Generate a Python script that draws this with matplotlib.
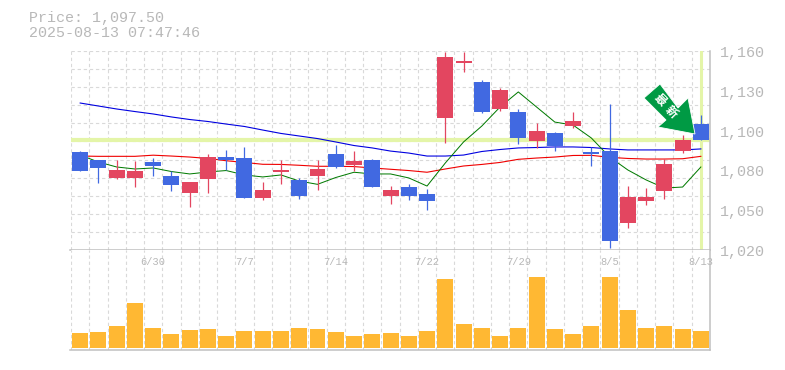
import numpy as np
import matplotlib
matplotlib.use('Agg')
import matplotlib.pyplot as plt
from matplotlib.patches import Polygon
from matplotlib.transforms import Affine2D

W, H = 785, 370

# daily prices
opens = [1089, 1083.5, 1070.5, 1070.5, 1082, 1072, 1060, 1070, 1085.5, 1084.5, 1056.5, 1075,
         1069.5, 1072, 1087.5, 1080, 1083.5, 1058, 1064.5, 1059.5, 1113, 1151.5, 1138, 1119,
         1117, 1096.5, 1102.5, 1107, 1089, 1089.5, 1039, 1054.5, 1061.5, 1089.5, 1108.5]
highs = [1089.5, 1083.5, 1083.5, 1082.5, 1084.5, 1075.5, 1068, 1087.5, 1090.5, 1092.5, 1068, 1083.5,
         1070.5, 1083.5, 1094, 1089.5, 1084, 1065, 1066.5, 1063, 1159.5, 1159.5, 1139.5, 1134,
         1119, 1109.5, 1103, 1117, 1092.5, 1122.5, 1065, 1063.5, 1084, 1101, 1115]
lows = [1075.5, 1067, 1070, 1064.5, 1072, 1061.5, 1050.5, 1060, 1076.5, 1056.5, 1055, 1066.5,
        1056, 1062, 1077.5, 1075.5, 1064.5, 1052.5, 1055, 1048, 1095.5, 1145, 1116.5, 1118,
        1094.5, 1092, 1089.5, 1106, 1079, 1021.5, 1035.5, 1051.5, 1056, 1088, 1097.5]
closes = [1075.5, 1077.5, 1076.5, 1075.5, 1079, 1065.5, 1068, 1085.5, 1083.5, 1056.5, 1062, 1076.5,
          1058, 1077, 1078.5, 1082.5, 1064.5, 1062, 1058, 1054.5, 1156, 1153, 1117, 1132.5,
          1099, 1103.5, 1093, 1111, 1087.5, 1026.5, 1057.5, 1057.5, 1080.5, 1097.5, 1097.5]

# moving averages
ma_long = [1123.4, 1121.3, 1119.2, 1117.4, 1115.7, 1113.6, 1111.8, 1110.4, 1108.6, 1106.9, 1104.4, 1102,
           1100.2, 1098.4, 1096, 1093.5, 1091.8, 1089.6, 1088.2, 1086.1, 1086.1, 1086.8, 1089.3, 1090.7,
           1091.8, 1092.1, 1092.5, 1092.5, 1092.1, 1091.1, 1090.4, 1090.4, 1090.4, 1090.4, 1091.1]
ma_mid = [1086.1, 1085.9, 1085.9, 1085.9, 1086.7, 1086.1, 1085.4, 1084.4, 1082.8, 1081.6, 1080.3, 1080.2,
          1079.6, 1078.9, 1078.9, 1078.7, 1077.7, 1076.8, 1075.9, 1074.7, 1077, 1079.1, 1080.2, 1081.6,
          1083.8, 1084.7, 1085.4, 1086.5, 1086.6, 1085.2, 1084.4, 1084, 1084, 1084.2, 1085.9]
ma_short = [1086.8, 1081.9, 1078.4, 1077, 1077.7, 1075.2, 1073.5, 1074.9, 1075.9, 1072.8, 1071.4, 1072.8,
            1068.5, 1066.2, 1071, 1074.7, 1073.5, 1073.5, 1070.7, 1065, 1081.2, 1096, 1107.2, 1120.6,
            1131.2, 1120.6, 1110, 1107.9, 1098.8, 1085.4, 1076.3, 1069.3, 1063.6, 1064.3, 1078.4]

volume = [15, 16, 22, 45, 20, 14, 18, 19, 12, 17, 17, 17, 20, 19, 16, 12, 14, 15, 12, 17, 69, 24, 20, 12,
          20, 71, 19, 14, 22, 71, 38, 20, 22, 19, 17]

date_idx = [4, 9, 14, 19, 24, 29, 34]
date_labels = ['6/30', '7/7', '7/14', '7/22', '7/29', '8/5', '8/13']
price_ticks = [1160, 1132, 1104, 1076, 1048, 1020]
price_labels = ['1,160', '1,130', '1,100', '1,080', '1,050', '1,020']
last_price = 1097.5

BLUE = '#4169e1'
RED = '#e34660'
GRID = '#d9d9d9'
AXIS = '#c0c0c0'
TXT = '#b8b8b8'
MONO = 'Liberation Mono'
CJK = ['Noto Sans CJK JP', 'DejaVu Sans']

fig = plt.figure(figsize=(W / 100, H / 100), dpi=100)


def panel(x0, y0, x1, y1):
    return fig.add_axes([x0 / W, 1 - y1 / H, (x1 - x0) / W, (y1 - y0) / H])


ax = panel(70.5, 51, 710, 250)
av = panel(70.5, 250, 710, 350)

for a in (ax, av):
    a.set_xlim(-0.53, 34.5)
    a.set_xticks(np.arange(-0.5, 34.6, 1))
    a.grid(True, axis='x', color=GRID, lw=0.8, ls=(0, (3, 2.5)))
    a.tick_params(length=0, labelbottom=False, labelleft=False)
    a.set_axisbelow(True)
    for s in a.spines.values():
        s.set_visible(False)
    a.spines['right'].set_visible(True)
    a.spines['right'].set_color(AXIS)
    a.spines['right'].set_linewidth(1.1)
    a.spines['bottom'].set_visible(True)
    a.spines['bottom'].set_color(AXIS)
    a.spines['bottom'].set_linewidth(1.1)

ax.set_ylim(1020, 1160)
ax.set_yticks(np.linspace(1020, 1160, 12))
ax.grid(True, axis='y', color=GRID, lw=0.8, ls=(0, (3, 2.5)))

x = np.arange(len(opens))
ax.axhline(last_price, color='#e4f5a8', lw=3, zorder=1)
ax.axvline(34, color='#e4f5a8', lw=2.2, zorder=1, ymax=0.995)

ax.plot(x, ma_long, color='#0000e0', lw=0.8, zorder=2)
ax.plot(x, ma_mid, color='#f00000', lw=0.8, zorder=2)
ax.plot(x, ma_short, color='#007a00', lw=0.72, zorder=2)

for i in x:
    col = RED if closes[i] >= opens[i] else BLUE
    ax.vlines(i, lows[i], highs[i], color=col, lw=0.9, zorder=3)
    ax.bar(i, abs(closes[i] - opens[i]), 0.876, bottom=min(opens[i], closes[i]), color=col, zorder=3)

# arrow marker, drawn in pixels
px = Affine2D().scale(1, -1).translate(0, H).scale(1 / W, 1 / H) + fig.transFigure
arrow = [(660, 84), (644, 98), (666, 120), (658, 127), (695, 134), (688, 98), (678, 108)]
fig.add_artist(Polygon(arrow, closed=True, facecolor='#009a44', edgecolor='white', lw=0.6, transform=px, zorder=5))
fig.text(660 / W, 1 - 100 / H, '最', family=CJK, color='white', fontsize=8.5, weight='bold',
         rotation=-45, ha='center', va='center', zorder=6)
fig.text(671 / W, 1 - 112 / H, '新', family=CJK, color='white', fontsize=8.5, weight='bold',
         rotation=-45, ha='center', va='center', zorder=6)

av.set_ylim(-2, 98)
av.set_yticks([])
av.bar(x, volume, 0.876, color='#ffb833', zorder=3)

for i, lab in zip(date_idx, date_labels):
    av.text(i, 86, lab, family=MONO, fontsize=7.5, color=TXT, ha='center', va='center', zorder=4)

for p, lab in zip(price_ticks, price_labels):
    ax.annotate(lab, (1, p), xycoords=ax.get_yaxis_transform(), xytext=(9.5, -2), textcoords='offset pixels',
                family=MONO, fontsize=10.8, color=TXT, ha='left', va='center', annotation_clip=False)

fig.text(29 / W, 1 - 18 / H, 'Price: 1,097.50', family=MONO, fontsize=10.8, color=TXT, ha='left', va='center')
fig.text(29 / W, 1 - 33 / H, '2025-08-13 07:47:46', family=MONO, fontsize=10.8, color=TXT, ha='left', va='center')

fig.savefig('out.png', dpi=100)
